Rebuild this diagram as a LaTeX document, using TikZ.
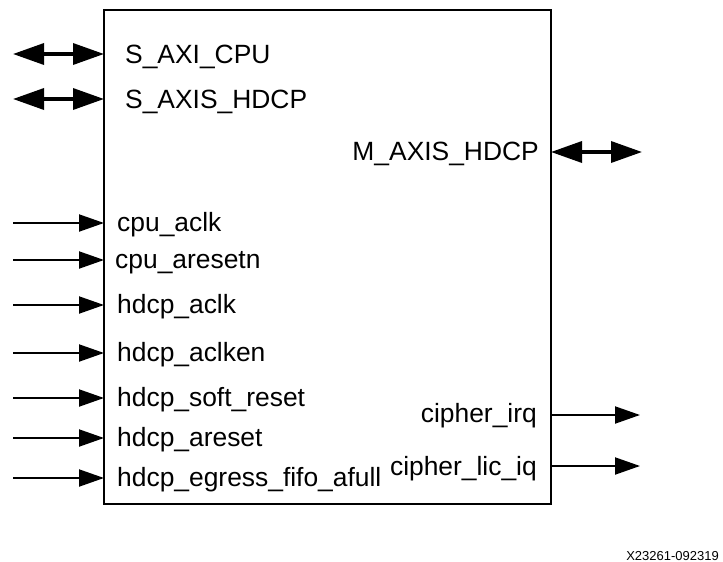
\documentclass[tikz,border=0pt]{standalone}
\usepackage{fontspec}
\setmainfont{Liberation Sans}
\usetikzlibrary{arrows.meta,calc}
\newcommand{\bw}{447}
\newcommand{\bh}{494}
\newcommand{\pl}{91}
\tikzset{
  sig/.style={line width=2pt,-{Triangle[length=25pt,width=17pt]}},
  bus/.style={line width=3.5pt,{Triangle[length=31pt,width=21pt]}-{Triangle[length=31pt,width=21pt]}},
  pinlbl/.style={inner sep=0pt,font=\fontsize{26.4}{31}\selectfont},
}

\begin{document}
\begin{tikzpicture}[x=1pt,y=-1pt]
\useasboundingbox (0,0) rectangle (723,562);
\coordinate (o) at (104,10);
\path (o) ++(\bw,0) coordinate (a);
\path (o) ++(0,\bh) coordinate (b);
\path (a) ++(0,\bh) coordinate (c);
\draw[line width=2pt] (o)--(a)--(c)--(b)--cycle;
% bus ports
\path (o) ++(0,44) coordinate (saxi);
\path (o) ++(0,89) coordinate (saxis);
\path (a) ++(0,142) coordinate (maxis);
\path (saxi) ++(-\pl,0) coordinate (saxi0);
\path (saxis) ++(-\pl,0) coordinate (saxis0);
\path (maxis) ++(\pl,0) coordinate (maxis0);
\draw[bus] (saxi0) -- (saxi);
\draw[bus] (saxis0) -- (saxis);
\draw[bus] (maxis) -- (maxis0);
\node[pinlbl,anchor=base west] (saxil) at ($(saxi)+(21,9)$) {S\_AXI\_CPU};
\node[pinlbl,anchor=base west] (saxisl) at ($(saxis)+(21,9)$) {S\_AXIS\_HDCP};
\node[pinlbl,anchor=base east] (maxisl) at ($(maxis)+(-12,8)$) {M\_AXIS\_HDCP};
% inputs
\path (o) ++(0,213) coordinate (cclk);
\path (o) ++(0,250) coordinate (crst);
\path (o) ++(0,295) coordinate (hclk);
\path (o) ++(0,343) coordinate (hclken);
\path (o) ++(0,388) coordinate (hsrst);
\path (o) ++(0,428) coordinate (harst);
\path (o) ++(0,468) coordinate (hfifo);
\path (cclk) ++(-\pl,0) coordinate (cclk0);
\path (crst) ++(-\pl,0) coordinate (crst0);
\path (hclk) ++(-\pl,0) coordinate (hclk0);
\path (hclken) ++(-\pl,0) coordinate (hclken0);
\path (hsrst) ++(-\pl,0) coordinate (hsrst0);
\path (harst) ++(-\pl,0) coordinate (harst0);
\path (hfifo) ++(-\pl,0) coordinate (hfifo0);
\draw[sig] (cclk0) -- (cclk);
\draw[sig] (crst0) -- (crst);
\draw[sig] (hclk0) -- (hclk);
\draw[sig] (hclken0) -- (hclken);
\draw[sig] (hsrst0) -- (hsrst);
\draw[sig] (harst0) -- (harst);
\draw[sig] (hfifo0) -- (hfifo);
\node[pinlbl,anchor=base west] (cclkl) at ($(cclk)+(13,8)$) {cpu\_aclk};
\node[pinlbl,anchor=base west] (crstl) at ($(crst)+(11,8)$) {cpu\_aresetn};
\node[pinlbl,anchor=base west] (hclkl) at ($(hclk)+(13,8)$) {hdcp\_aclk};
\node[pinlbl,anchor=base west] (hclkenl) at ($(hclken)+(13,8)$) {hdcp\_aclken};
\node[pinlbl,anchor=base west] (hsrstl) at ($(hsrst)+(13,8)$) {hdcp\_soft\_reset};
\node[pinlbl,anchor=base west] (harstl) at ($(harst)+(13,8)$) {hdcp\_areset};
\node[pinlbl,anchor=base west] (hfifol) at ($(hfifo)+(13,8)$) {hdcp\_egress\_fifo\_afull};
% outputs
\path (a) ++(0,405) coordinate (irq);
\path (a) ++(0,456) coordinate (lic);
\path (irq) ++(89,0) coordinate (irq0);
\path (lic) ++(89,0) coordinate (lic0);
\draw[sig] (irq) -- (irq0);
\draw[sig] (lic) -- (lic0);
\node[pinlbl,anchor=base east] (irql) at ($(irq)+(-14,7)$) {cipher\_irq};
\node[pinlbl,anchor=base east] (licl) at ($(lic)+(-14,9)$) {cipher\_lic\_iq};
\node[inner sep=0pt,anchor=base east,font=\fontsize{13}{15}\selectfont] (fignum) at (719,560) {X23261-092319};
\end{tikzpicture}
\end{document}
